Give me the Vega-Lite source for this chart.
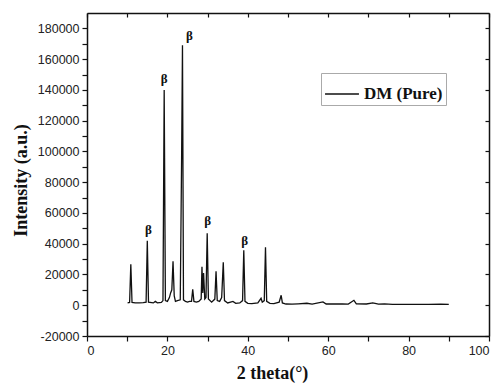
{
  "$schema": "https://vega.github.io/schema/vega-lite/v6.json",
  "width": 402,
  "height": 323,
  "autosize": {"type": "none"},
  "padding": {"left": 87, "top": 13, "right": 9, "bottom": 48},
  "background": "white",
  "config": {
    "view": {"stroke": null},
    "axis": {
      "domainColor": "#111", "domainWidth": 1.5, "tickColor": "#111", "tickWidth": 1.2,
      "labelFont": "Liberation Sans", "labelFontSize": 12.5, "labelColor": "#222",
      "titleFont": "Liberation Serif", "titleFontWeight": "bold", "titleFontSize": 18, "titleColor": "#111",
      "grid": false
    }
  },
  "resolve": {"axis": {"x": "independent", "y": "independent"}},
  "layer": [
    {
      "data": {"values": [
        {"t":10.1,"i":1500},{"t":10.6,"i":1800},{"t":10.9,"i":26600},{"t":11.2,"i":1800},{"t":12.0,"i":1500},{"t":13.0,"i":1600},{"t":14.0,"i":1700},{"t":14.7,"i":2000},{"t":15.0,"i":42000},{"t":15.3,"i":2000},{"t":16.5,"i":1500},{"t":17.0,"i":2500},{"t":17.5,"i":1600},{"t":18.5,"i":1800},{"t":18.9,"i":3000},{"t":19.2,"i":140000},{"t":19.5,"i":3000},{"t":20.0,"i":2500},{"t":20.5,"i":5000},{"t":20.8,"i":8000},{"t":21.1,"i":10000},{"t":21.4,"i":28600},{"t":21.7,"i":6000},{"t":22.0,"i":2500},{"t":22.5,"i":3000},{"t":23.2,"i":3500},{"t":23.55,"i":100000},{"t":23.75,"i":169000},{"t":24.0,"i":3500},{"t":24.5,"i":2500},{"t":25.0,"i":2000},{"t":25.5,"i":2500},{"t":26.0,"i":2500},{"t":26.3,"i":10400},{"t":26.6,"i":2500},{"t":27.2,"i":2000},{"t":27.8,"i":2500},{"t":28.4,"i":4000},{"t":28.6,"i":25000},{"t":28.8,"i":8000},{"t":29.0,"i":21000},{"t":29.3,"i":4000},{"t":29.6,"i":5000},{"t":29.9,"i":46800},{"t":30.2,"i":4000},{"t":31.0,"i":2000},{"t":31.8,"i":4000},{"t":32.1,"i":22000},{"t":32.4,"i":3000},{"t":33.0,"i":2500},{"t":33.5,"i":5000},{"t":33.9,"i":27900},{"t":34.2,"i":3000},{"t":35.0,"i":1500},{"t":36.3,"i":2500},{"t":37.0,"i":1200},{"t":38.0,"i":1500},{"t":38.7,"i":3000},{"t":39.0,"i":35800},{"t":39.3,"i":2500},{"t":40.0,"i":1200},{"t":41.0,"i":1000},{"t":42.5,"i":1500},{"t":43.3,"i":4500},{"t":43.6,"i":2000},{"t":44.1,"i":3000},{"t":44.4,"i":37700},{"t":44.7,"i":2500},{"t":45.5,"i":1200},{"t":46.5,"i":1000},{"t":47.8,"i":2000},{"t":48.3,"i":6500},{"t":48.6,"i":1500},{"t":49.5,"i":800},{"t":51.0,"i":700},{"t":52.5,"i":900},{"t":54.7,"i":1300},{"t":56.0,"i":700},{"t":58.7,"i":2200},{"t":59.5,"i":800},{"t":61.5,"i":900},{"t":63.5,"i":800},{"t":65.0,"i":700},{"t":66.4,"i":3200},{"t":67.0,"i":900},{"t":69.5,"i":800},{"t":71.1,"i":1500},{"t":72.5,"i":700},{"t":74.0,"i":900},{"t":76.0,"i":600},{"t":80.0,"i":600},{"t":85.0,"i":600},{"t":88.0,"i":700},{"t":90.0,"i":600}
      ]},
      "transform": [{"calculate": "'DM (Pure)'", "as": "series"}],
      "mark": {"type": "line", "strokeWidth": 1.3, "interpolate": "linear"},
      "encoding": {
        "x": {"field": "t", "type": "quantitative",
          "scale": {"domain": [0, 100], "nice": false, "zero": false},
          "axis": {"title": "2 theta(°)", "values": [0,10,20,30,40,50,60,70,80,90,100],
            "labelExpr": "datum.value % 20 == 0 ? datum.label : ''", "tickSize": 5, "labelPadding": 3,
            "titleX": 185, "titleY": 42, "titleBaseline": "alphabetic", "titleAlign": "center"}},
        "y": {"field": "i", "type": "quantitative",
          "scale": {"domain": [-20000, 190000], "nice": false, "zero": false},
          "axis": {"title": "Intensity (a.u.)", "format": "d",
            "values": [-20000,-10000,0,10000,20000,30000,40000,50000,60000,70000,80000,90000,100000,110000,120000,130000,140000,150000,160000,170000,180000],
            "labelExpr": "datum.value % 20000 == 0 ? replace(datum.label, '−', '-') : ''", "tickSize": 5, "labelPadding": 3,
            "titleX": -66, "titleY": 167, "titleBaseline": "middle", "titleAlign": "center", "titleAngle": -90}},
        "color": {"field": "series", "type": "nominal",
          "scale": {"range": ["#111"]},
          "legend": {"title": null, "orient": "none", "legendX": 234, "legendY": 60,
            "symbolType": "stroke", "symbolSize": 1150, "symbolStrokeWidth": 1.5,
            "labelFont": "Liberation Serif", "labelFontWeight": "bold", "labelFontSize": 17, "labelColor": "#111",
            "strokeColor": "#aaa", "padding": 3, "labelOffset": 4}}
      }
    },
    {
      "data": {"values": [
        {"t": 15.3, "i": 49000, "lab": "β"},
        {"t": 19.2, "i": 147000, "lab": "β"},
        {"t": 25.5, "i": 175000, "lab": "β"},
        {"t": 30.0, "i": 54500, "lab": "β"},
        {"t": 39.2, "i": 41500, "lab": "β"}
      ]},
      "mark": {"type": "text", "font": "Liberation Serif", "fontWeight": "bold", "fontSize": 13, "color": "#111", "baseline": "middle"},
      "encoding": {
        "x": {"field": "t", "type": "quantitative",
          "axis": {"orient": "top", "title": null, "labels": false, "values": [0,10,20,30,40,50,60,70,80,90,100], "tickSize": -4}},
        "y": {"field": "i", "type": "quantitative",
          "axis": {"orient": "right", "title": null, "labels": false,
            "values": [-20000,0,20000,40000,60000,80000,100000,120000,140000,160000,180000], "tickSize": -4}},
        "text": {"field": "lab"}
      }
    }
  ]
}
